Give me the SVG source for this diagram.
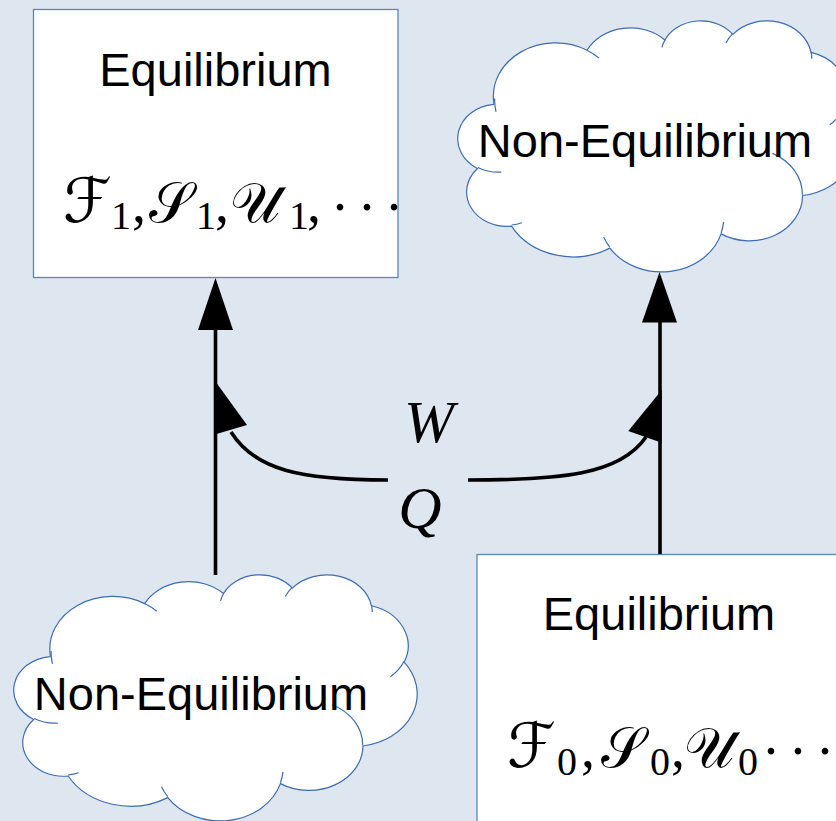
<svg xmlns="http://www.w3.org/2000/svg" width="836" height="821" viewBox="0 0 836 821">
<defs>
<style>
.bg{fill:#dee6f0}
.box{fill:#ffffff;stroke:#5a84c2;stroke-width:1.3}
.cloud{fill:#ffffff;stroke:#3d6db0;stroke-width:1.2;vector-effect:non-scaling-stroke}
.hair{fill:none;stroke:#3d6db0;stroke-width:1.2;vector-effect:non-scaling-stroke}
.lbl{font-family:"Liberation Sans",Arial,sans-serif;font-size:47px;fill:#000}
.scr{font-family:"DejaVu Serif","DejaVu Sans",serif;font-size:56px;fill:#000}
.scrF{font-family:"DejaVu Serif","DejaVu Sans",serif;font-size:62px;fill:#000}
.num{font-family:"Liberation Serif","Times New Roman",serif;font-size:40px;fill:#000}
.cm{font-family:"Liberation Serif","Times New Roman",serif;font-size:56px;fill:#000}
.it{font-family:"Liberation Serif","Times New Roman",serif;font-style:italic;font-size:60px;fill:#000}
.ln{fill:none;stroke:#000;stroke-width:3.6}
.ah{fill:#000;stroke:none}
</style>
</defs>
<rect class="bg" x="0" y="0" width="836" height="821"/>

<g id="eq1">
<rect class="box" x="33.5" y="9.5" width="364.5" height="268"/>
<text class="lbl" x="215.5" y="86" text-anchor="middle">Equilibrium</text>
<text class="scrF" x="63" y="222">ℱ</text>
<text class="num" x="111" y="229">1</text>
<text class="cm" x="132" y="222">,</text>
<text class="scr" x="149" y="222">𝒮</text>
<text class="num" x="196" y="229">1</text>
<text class="cm" x="215" y="222">,</text>
<text class="scr" x="230" y="222">𝒰</text>
<text class="num" x="289" y="229">1</text>
<text class="cm" x="307" y="222">,</text>
<text class="cm" x="333 360 387" y="210">...</text>
</g>

<g id="eq0">
<rect class="box" x="477" y="554.5" width="400" height="300"/>
<text class="lbl" x="659" y="630" text-anchor="middle">Equilibrium</text>
<text class="scrF" x="507" y="767">ℱ</text>
<text class="num" x="557" y="775">0</text>
<text class="cm" x="581" y="767">,</text>
<text class="scr" x="601" y="767">𝒮</text>
<text class="num" x="650" y="775">0</text>
<text class="cm" x="671" y="767">,</text>
<text class="scr" x="684" y="767">𝒰</text>
<text class="num" x="738" y="775">0</text>
<text class="cm" x="764 791 818" y="754">...</text>
</g>

<g id="noneq-top">
<g transform="translate(458,20) scale(0.009213,0.0058102)">
<path class="cloud" d="M3900,14370 a6753,9190 0 0 1 10105,-9167.8 a5333,7267 0 0 1 8451.1,-1769.1 a4365,5945 0 0 1 7376.9,-951.7 a4857,6595 0 0 1 8484.9,3095.5 a5333,7273 0 0 1 3500.2,9883.6 a6775,9220 0 0 1 -4413.6,14744.2 a5785,7867 0 0 1 -8848.6,6610 a6752,9215 0 0 1 -12074.6,2453.2 a7720,10543 0 0 1 -10676,-3794.4 a4360,5918 0 0 1 -3690.7,-9922.6 a4345,5945 0 0 1 1751.6,-11043.6 z"/>
<path class="hair" d="M4693,26177 a4345,5945 0 0 1 -2533.5,-797.2 M6928,34899 a4360,5918 0 0 1 -1108.4,381.4 M16478,39090 a6752,9215 0 0 1 -668.7,-1742.5 M28827,34751 a6752,9215 0 0 1 -266.6,1908.8 M34129,22954 a5785,7867 0 0 1 3251.6,7135.8 M41798,15354 a5333,7273 0 0 1 -1448.2,2676.2 M38324,5426 a4857,6595 0 0 1 76.4,1263.7 M29078,3952 a4857,6595 0 0 1 742.1,-1611.7 M22141,4720 a4365,5945 0 0 1 359.1,-1389.6 M14000,5192 a6753,9190 0 0 1 1300.2,1348.6 M4127,15789 a6753,9190 0 0 1 -145.8,-2254.6"/>
</g>
<text class="lbl" x="645" y="157" text-anchor="middle">Non-Equilibrium</text>
</g>

<g id="noneq-bottom">
<g transform="translate(14,574) scale(0.0093287,0.0056944)">
<path class="cloud" d="M3900,14370 a6753,9190 0 0 1 10105,-9167.8 a5333,7267 0 0 1 8451.1,-1769.1 a4365,5945 0 0 1 7376.9,-951.7 a4857,6595 0 0 1 8484.9,3095.5 a5333,7273 0 0 1 3500.2,9883.6 a6775,9220 0 0 1 -4413.6,14744.2 a5785,7867 0 0 1 -8848.6,6610 a6752,9215 0 0 1 -12074.6,2453.2 a7720,10543 0 0 1 -10676,-3794.4 a4360,5918 0 0 1 -3690.7,-9922.6 a4345,5945 0 0 1 1751.6,-11043.6 z"/>
<path class="hair" d="M4693,26177 a4345,5945 0 0 1 -2533.5,-797.2 M6928,34899 a4360,5918 0 0 1 -1108.4,381.4 M16478,39090 a6752,9215 0 0 1 -668.7,-1742.5 M28827,34751 a6752,9215 0 0 1 -266.6,1908.8 M34129,22954 a5785,7867 0 0 1 3251.6,7135.8 M41798,15354 a5333,7273 0 0 1 -1448.2,2676.2 M38324,5426 a4857,6595 0 0 1 76.4,1263.7 M29078,3952 a4857,6595 0 0 1 742.1,-1611.7 M22141,4720 a4365,5945 0 0 1 359.1,-1389.6 M14000,5192 a6753,9190 0 0 1 1300.2,1348.6 M4127,15789 a6753,9190 0 0 1 -145.8,-2254.6"/>
</g>
<text class="lbl" x="201" y="710" text-anchor="middle">Non-Equilibrium</text>
</g>

<g id="connectors">
<path class="ln" d="M215.5,575 V320"/>
<polygon class="ah" points="215.5,278 233,330 198,330"/>
<path class="ln" d="M660,554 V312"/>
<polygon class="ah" points="659.5,272 677,322.5 642,322.5"/>
<path class="ln" d="M388,480 C300,480 255,470 231,432"/>
<polygon class="ah" points="216.5,383 247,425 216.5,434"/>
<path class="ln" d="M468,480 C560,480 620,475 646,437"/>
<polygon class="ah" points="661.7,390 628.3,431 661.7,442.7"/>
<text class="it" x="429" y="442" text-anchor="middle">W</text>
<text class="it" x="420" y="528" text-anchor="middle">Q</text>
</g>
</svg>
